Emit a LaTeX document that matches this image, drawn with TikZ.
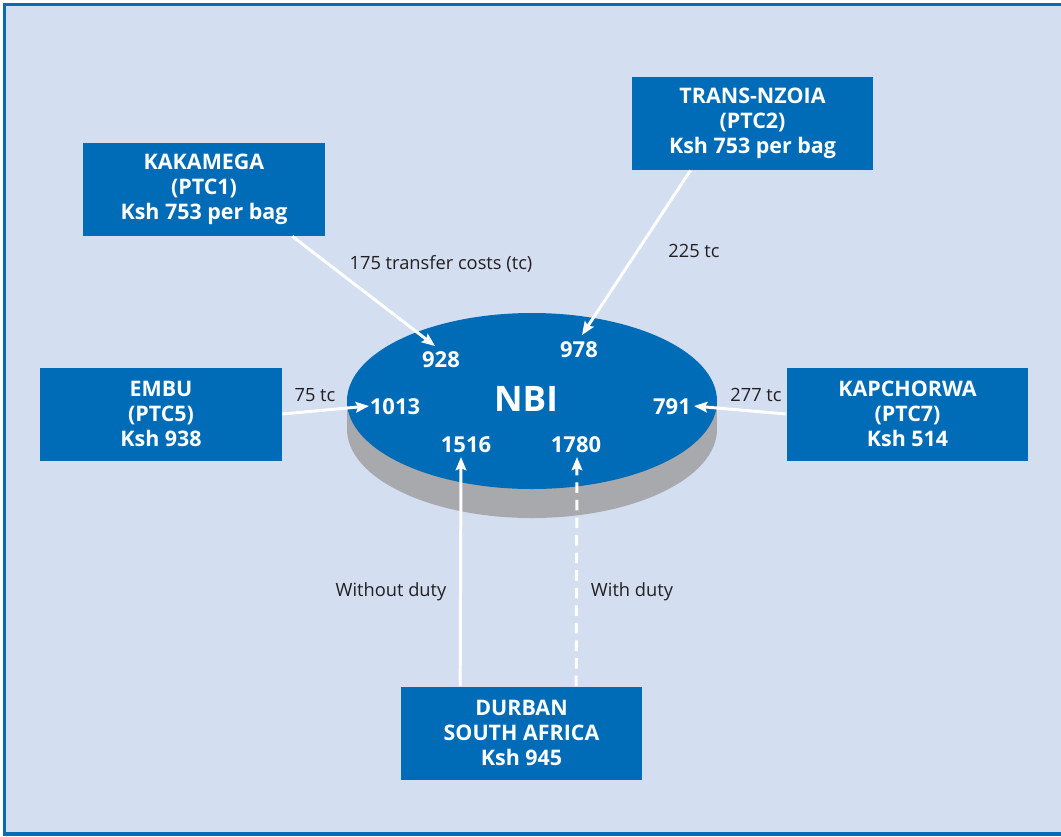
\documentclass[tikz,border=0pt]{standalone}
\usepackage{fontspec}
\setmainfont{Open Sans}
\usetikzlibrary{arrows.meta,positioning}
\definecolor{frame}{HTML}{0A6BB5}
\definecolor{paper}{HTML}{D3DEF1}
\definecolor{hub}{HTML}{006CB7}
\definecolor{rim}{HTML}{A7A9AC}
\definecolor{ink}{HTML}{231F20}

\begin{document}
\begin{tikzpicture}[x=0.02cm,y=-0.02cm,
    ptc/.style={fill=hub,text=white,font=\fontsize{12.2}{14.2}\selectfont\bfseries,
      align=center,minimum width=4.84cm,minimum height=1.86cm,inner sep=0pt},
    num/.style={text=white,font=\fontsize{12.5}{14}\selectfont\bfseries,inner sep=1pt},
    cost/.style={text=ink,font=\fontsize{10.4}{12}\selectfont},
    flow/.style={white,line width=1.7pt,-{Stealth[length=7.5pt,width=6pt,inset=1.2pt]}}]
  \useasboundingbox (0,0) rectangle (1061,836);
  \fill[white] (0,0) rectangle (1061,836);
  \fill[paper] (4.5,4.5) rectangle (1061,834);
  \draw[frame,line width=1.8pt] (1061,4.5) -- (4.5,4.5) -- (4.5,834) -- (1061,834);

  % NBI disk
  \fill[rim] (347,401) rectangle (717,429);
  \fill[rim] (532,429) ellipse [x radius=185, y radius=89];
  \fill[hub] (532,401) ellipse [x radius=185, y radius=88];
  \node[text=white,font=\fontsize{20}{22}\selectfont\bfseries] (nbi) at (526,399) {NBI};
  \node[num] (n928) at (441,360) {928};
  \node[num] (n978) at (579,350) {978};
  \node[num] (n1013) at (395,407) {1013};
  \node[num] (n791) at (672,407) {791};
  \node[num] (n1516) at (466,445) {1516};
  \node[num] (n1780) at (576,445) {1780};

  % Production areas
  \node[ptc] (kakamega) at (204,189.5) {KAKAMEGA\\(PTC1)\\Ksh 753 per bag};
  \node[ptc] (transnzoia) at (752.5,123.5) {TRANS-NZOIA\\(PTC2)\\Ksh 753 per bag};
  \node[ptc] (embu) at (161,414) {EMBU\\(PTC5)\\Ksh 938};
  \node[ptc] (kapchorwa) at (907.5,414) {KAPCHORWA\\(PTC7)\\Ksh 514};
  \node[ptc] (durban) at (521.5,733) {DURBAN\\SOUTH AFRICA\\Ksh 945};

  % Arrow ends on the disk
  \coordinate (kak-in) at (435,346);
  \coordinate (tn-in) at (582,335);
  \coordinate (emb-in) at (369,406);
  \coordinate (kap-in) at (694,406);
  \coordinate (nd-in) at (461,457);
  \coordinate (wd-in) at (577,457);

  % Transfers
  \draw[flow] (kakamega.south east) ++(-33,0) coordinate (kak-out) -- (kak-in);
  \draw[flow] (transnzoia.south) ++(-62,0) coordinate (tn-out) -- (tn-in);
  \draw[flow] (embu.east) -- (emb-in);
  \draw[flow] (kapchorwa.west) -- (kap-in);
  \draw[flow] (durban.north west) ++(60,0) coordinate (nd-out) -- (nd-in);
  \draw[flow,dash pattern=on 6pt off 4pt] (durban.north west) ++(176,0) coordinate (wd-out) -- (wd-in);

  % Labels
  \node[cost] (kak-tc) at (441,264) {175 transfer costs (tc)};
  \node[cost] (tn-tc) at (694,251) {225 tc};
  \node[cost] (emb-tc) at (315,395) {75 tc};
  \node[cost] (kap-tc) at (756,395) {277 tc};
  \node[cost] (nd-lbl) at (391,592) {Without duty};
  \node[cost] (wd-lbl) at (632,592) {With duty};
\end{tikzpicture}
\end{document}
